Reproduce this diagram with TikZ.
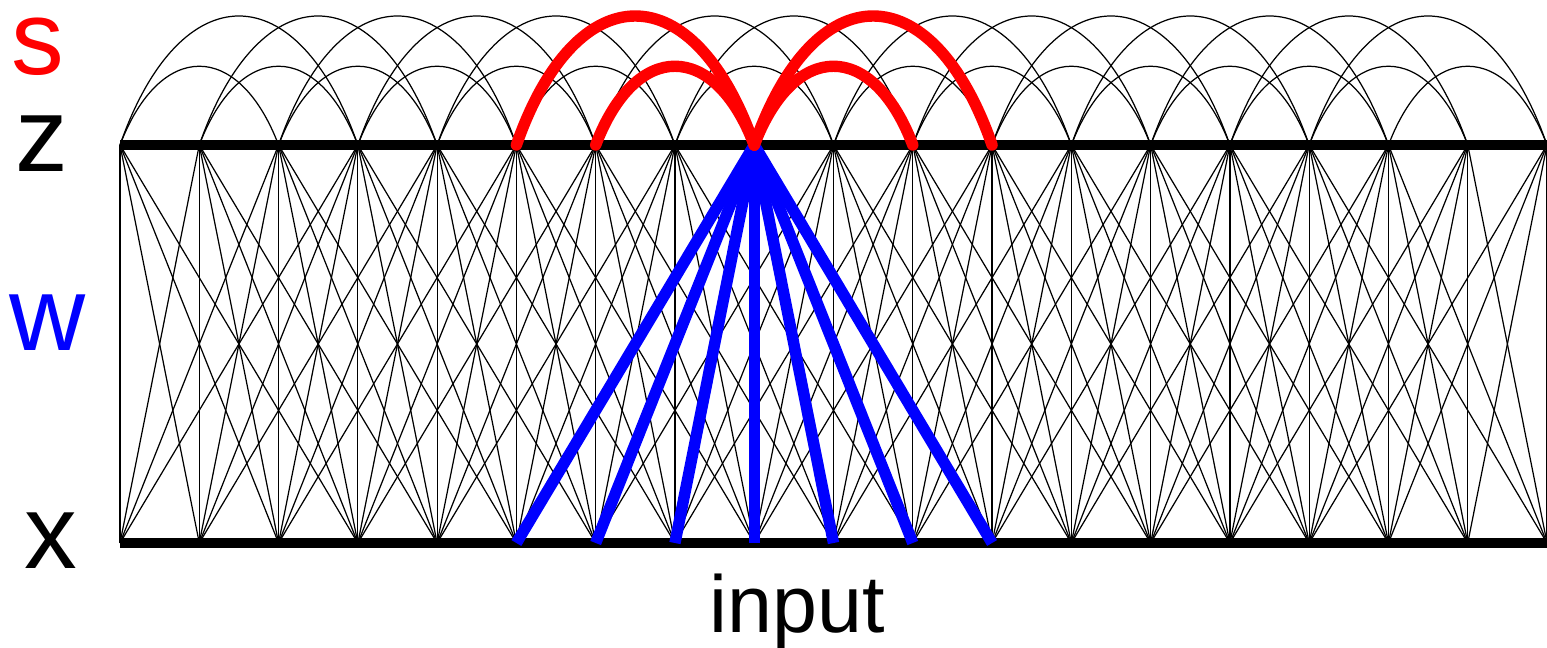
\documentclass[tikz,border=0pt]{standalone}
\usepackage{fontspec}
\setmainfont{Liberation Sans}
\begin{document}
\begin{tikzpicture}[x=0.02cm,y=-0.02cm,
  link/.style={line width=0.7pt},
  rail/.style={line width=6pt},
  wsel/.style={blue,line width=6.5pt},
  ssel/.style={red,line width=6.5pt,line cap=round},
  lbl/.style={font=\fontsize{60}{60}\selectfont,inner sep=0pt,anchor=base,text height=0.6em}]
\useasboundingbox (0,0) rectangle (1547,648);
\foreach \k in {0,...,18}{
  \coordinate (z\k) at (120+79.278*\k,145);
  \coordinate (x\k) at (120+79.278*\k,543);
}
% weights z -> x
\foreach \i in {0,...,18}
  \foreach \d in {-3,...,3}{
    \pgfmathtruncatemacro\t{\i+\d}
    \ifnum\t>-1 \ifnum\t<19 \draw[link] (z\i) -- (x\t); \fi\fi
  }
% lateral connections
\foreach \i in {0,...,16}{
  \pgfmathtruncatemacro\j{\i+2}
  \draw[link] (z\i) .. controls +(40,-105) and +(-40,-105) .. (z\j);
}
\foreach \i in {0,...,15}{
  \pgfmathtruncatemacro\j{\i+3}
  \draw[link] (z\i) .. controls +(60,-172) and +(-60,-172) .. (z\j);
}
\draw[rail] (z0) -- (z18);
\draw[rail] (x0) -- (x18);
% one unit highlighted
\foreach \t in {5,...,11} \draw[wsel] (z8) -- (x\t);
\draw[ssel] (z5) .. controls +(60,-172) and +(-60,-172) .. (z8);
\draw[ssel] (z6) .. controls +(40,-105) and +(-40,-105) .. (z8);
\draw[ssel] (z8) .. controls +(40,-105) and +(-40,-105) .. (z10);
\draw[ssel] (z8) .. controls +(60,-172) and +(-60,-172) .. (z11);
\node[lbl,text=red] (ls) at (38,75) {s};
\node[lbl] (lz) at (42,172) {z};
\node[lbl,text=blue] (lw) at (48,350) {w};
\node[lbl] (lx) at (51,568) {x};
\node[lbl,font=\fontsize{46}{46}\selectfont] (lin) at (797,632) {input};
\end{tikzpicture}
\end{document}
